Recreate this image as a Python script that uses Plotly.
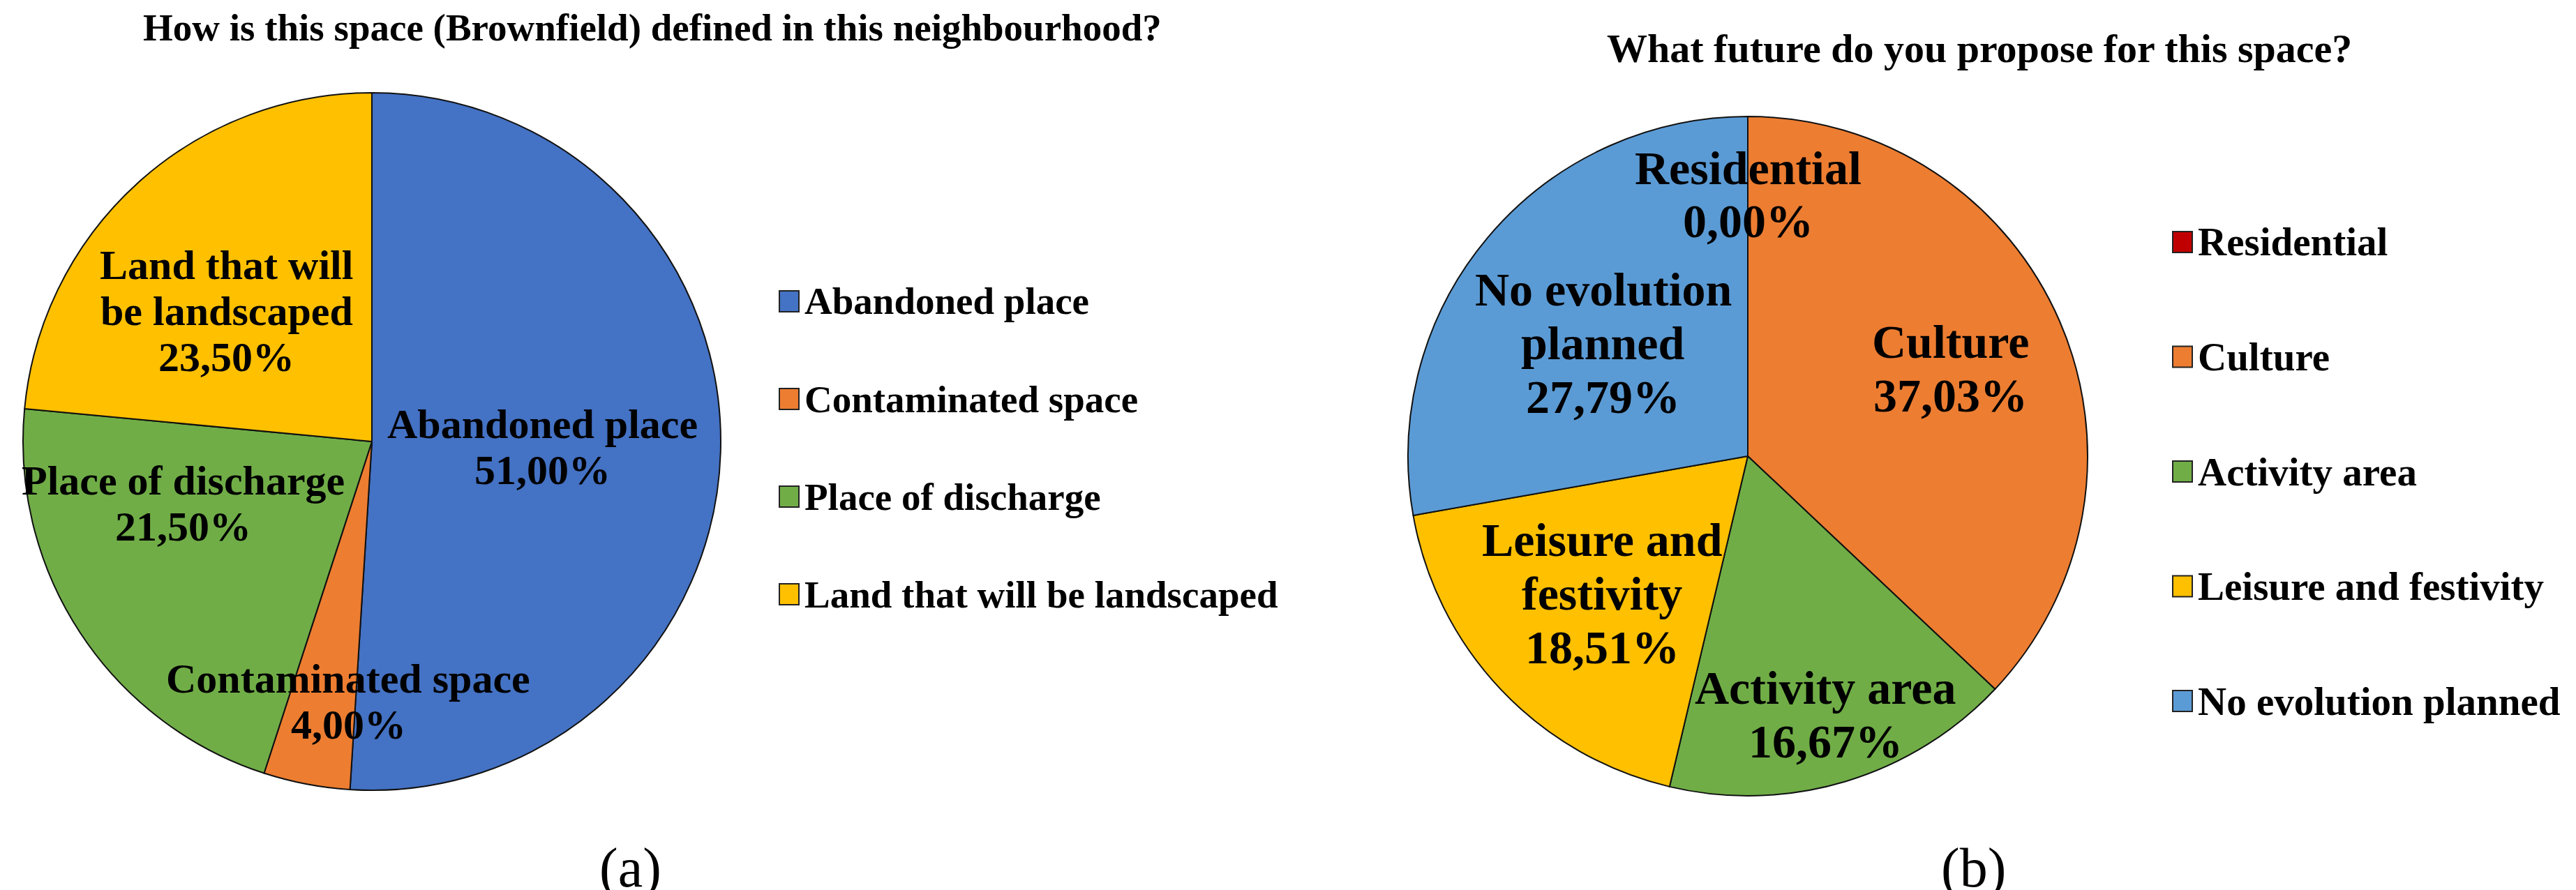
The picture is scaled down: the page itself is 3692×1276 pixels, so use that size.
import math
import plotly.graph_objects as go

W, H = 3692, 1276

# (a) How is this space (Brownfield) defined in this neighbourhood?
categories_a = ["Abandoned place", "Contaminated space", "Place of discharge", "Land that will be landscaped"]
values_a = [51.00, 4.00, 21.50, 23.50]
colors_a = ["#4472C4", "#ED7D31", "#70AD47", "#FFC000"]

# (b) What future do you propose for this space?
categories_b = ["Residential", "Culture", "Activity area", "Leisure and festivity", "No evolution planned"]
values_b = [0.00, 37.03, 16.67, 18.51, 27.79]
colors_b = ["#C00000", "#ED7D31", "#70AD47", "#FFC000", "#5B9BD5"]

wrapped = {
    "Land that will be landscaped": ["Land that will", "be landscaped"],
    "No evolution planned": ["No evolution", "planned"],
    "Leisure and festivity": ["Leisure and", "festivity"],
}

FONT = "Liberation Serif"

# pie geometry in pixels (centre x, centre y, radius)
pie_a = (525, 625, 500)
pie_b = (2497, 646, 487)
# label placement: fraction of radius, angle shift in degrees
lab_a = [(0.49, 0), (0.75, -5.6), (0.57, 15), (0.56, -5.7)]
lab_b = [(0.77, 0), (0.65, 0), (0.795, 0), (0.59, 0), (0.54, -2)]


def px(x, y):
    return x / W, 1 - y / H


def domain(p):
    cx, cy, r = p
    return dict(x=[(cx - r) / W, (cx + r) / W], y=[1 - (cy + r) / H, 1 - (cy - r) / H])


fig = go.Figure()
for cats, vals, cols, p in [(categories_a, values_a, colors_a, pie_a),
                            (categories_b, values_b, colors_b, pie_b)]:
    fig.add_trace(go.Pie(
        labels=cats, values=vals, sort=False, direction="clockwise", rotation=0,
        marker=dict(colors=cols, line=dict(color="#111111", width=2)),
        textinfo="none", hoverinfo="label+percent", showlegend=False,
        domain=domain(p),
    ))

annotations = []
shapes = []


def slice_labels(cats, vals, p, lab, size, spacing):
    cx, cy, r = p
    total = sum(vals)
    start = 0
    for c, v, (f, shift) in zip(cats, vals, lab):
        mid = 360 * (start + v / 2) / total + shift
        start += v
        x = cx + f * r * math.sin(math.radians(mid))
        y = cy - f * r * math.cos(math.radians(mid))
        lines = wrapped.get(c, [c]) + [f"{v:.2f}".replace(".", ",") + "%"]
        n = len(lines)
        for i, line in enumerate(lines):
            ax, ay = px(x, y + (i - (n - 1) / 2) * spacing * size)
            annotations.append(dict(x=ax, y=ay, xref="paper", yref="paper", text=line,
                                    showarrow=False, xanchor="center", yanchor="middle",
                                    font=dict(family=FONT, size=size, color="black", weight="bold")))


slice_labels(categories_a, values_a, pie_a, lab_a, 60, 1.1)
slice_labels(categories_b, values_b, pie_b, lab_b, 68, 1.13)


def legend(cats, cols, x0, y0, step, size):
    for i, (c, col) in enumerate(zip(cats, cols)):
        y = y0 + i * step
        sx0, sy0 = px(x0, y - 15)
        sx1, sy1 = px(x0 + 28, y + 15)
        shapes.append(dict(type="rect", xref="paper", yref="paper", x0=sx0, x1=sx1, y0=sy1, y1=sy0,
                           fillcolor=col, line=dict(color="#222222", width=2)))
        tx, ty = px(x0 + 34, y)
        annotations.append(dict(x=tx, y=ty, xref="paper", yref="paper", text=c, showarrow=False,
                                xanchor="left", yanchor="middle",
                                font=dict(family=FONT, size=size, color="black", weight="bold")))


legend(categories_a, colors_a, 1109, 424, 140, 55)
legend(categories_b, colors_b, 3106, 339, 164.5, 57)

for text, x, y, size in [("How is this space (Brownfield) defined in this neighbourhood?", 927, 31, 55),
                         ("What future do you propose for this space?", 2829, 61, 58)]:
    ax, ay = px(x, y)
    annotations.append(dict(x=ax, y=ay, xref="paper", yref="paper", text=text, showarrow=False,
                            xanchor="center", yanchor="middle",
                            font=dict(family=FONT, size=size, color="black", weight="bold")))

for text, x in [("(a)", 895), ("(b)", 2820)]:
    ax, ay = px(x, 1236)
    annotations.append(dict(x=ax, y=ay, xref="paper", yref="paper", text=text, showarrow=False,
                            xanchor="center", yanchor="middle",
                            font=dict(family=FONT, size=80, color="black")))

fig.update_layout(
    width=W, height=H,
    margin=dict(l=0, r=0, t=0, b=0),
    paper_bgcolor="white", plot_bgcolor="white",
    annotations=annotations, shapes=shapes,
    showlegend=False,
)

fig.write_html("out.html")
